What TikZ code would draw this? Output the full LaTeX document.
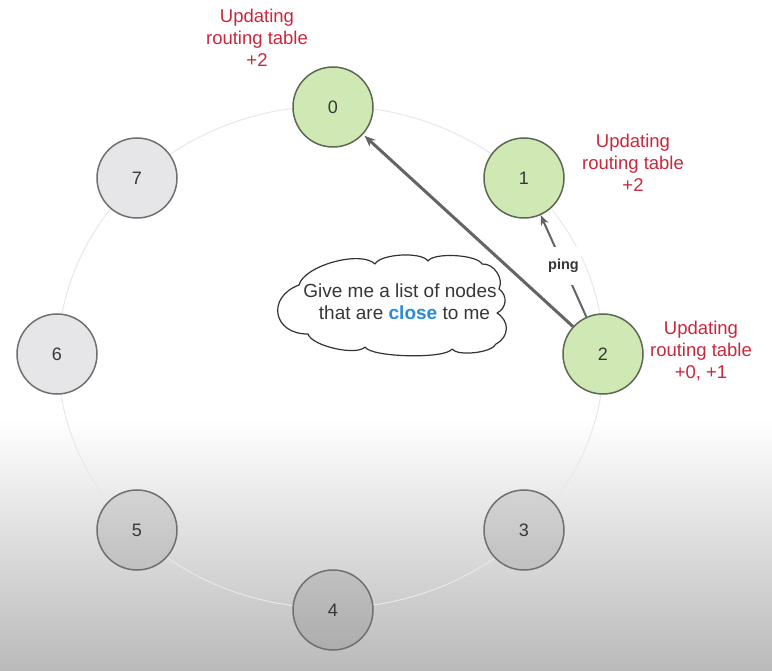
\documentclass[tikz,border=0pt]{standalone}
\usepackage{fontspec}
\setmainfont{Liberation Sans}
\usetikzlibrary{arrows.meta}
\definecolor{bgbot}{RGB}{186,186,186}
\definecolor{ringc}{RGB}{232,232,232}
\definecolor{greenfill}{RGB}{208,233,180}
\definecolor{greenedge}{RGB}{92,104,86}
\definecolor{grayedge}{RGB}{112,112,112}
\definecolor{redtxt}{RGB}{200,40,62}
\definecolor{bluetxt}{RGB}{44,138,214}
\definecolor{darktxt}{RGB}{55,55,55}
\definecolor{arrowc}{RGB}{100,100,100}
\definecolor{gtop}{RGB}{230,230,232}
\definecolor{gmidA}{RGB}{212,212,212}
\definecolor{gmidB}{RGB}{192,192,192}
\definecolor{glowB}{RGB}{173,173,173}
\tikzset{
  ringnode/.style={circle, minimum size=80pt, inner sep=0pt, line width=1.5pt,
    font=\fontsize{18}{20}\selectfont, text=darktxt},
  graynode/.style={ringnode, draw=grayedge, fill=gtop},
  midnode/.style={ringnode, draw=grayedge, top color=gmidA, bottom color=gmidB},
  lownode/.style={ringnode, draw=grayedge, top color=gmidB, bottom color=glowB},
  greennode/.style={ringnode, draw=greenedge, fill=greenfill},
  note/.style={align=center, text=redtxt, font=\fontsize{18.5}{22}\selectfont},
  msg/.style={line width=3pt, draw=arrowc, -{Stealth[length=11pt,width=9pt]}},
  pingmsg/.style={line width=2pt, draw=arrowc, -{Stealth[length=10pt,width=8pt]}},
  cloudline/.style={draw=black!80, line width=1.2pt, fill=white, line join=round},
}
\begin{document}
\begin{tikzpicture}[x=1pt,y=-1pt]
\useasboundingbox (0,0) rectangle (772,671);
\fill[white] (0,0) rectangle (772,420);
\shade[top color=white, bottom color=bgbot] (0,419) rectangle (772,671);
\draw[ringc, line width=1pt] (331,357) ellipse [x radius=273, y radius=251];

\node[greennode] (n0) at (333,107) {0};
\node[greennode] (n1) at (524,178) {1};
\node[greennode] (n2) at (603,354) {2};
\node[midnode] (n3) at (524,530) {3};
\node[lownode] (n4) at (333,610) {4};
\node[midnode] (n5) at (137,530) {5};
\node[graynode] (n6) at (57,354) {6};
\node[graynode] (n7) at (137,178) {7};

\node[note] (u0) at (257,37.5) {Updating\\routing table\\+2};
\node[note] (u1) at (633,162.5) {Updating\\routing table\\+2};
\node[note] (u2) at (701,351) {Updating\\routing table\\+0, +1};

\draw[msg, shorten >=2pt] (n2) -- (n0);
\draw[pingmsg] (n2) -- node[fill=white, inner xsep=2pt, inner ysep=12pt, text=darktxt,
  font=\bfseries\fontsize{14.5}{16}\selectfont] (ping) {ping} (n1);

\path[cloudline] (299,285)
  to[bend left=60, looseness=0.65] (375,264)
  to[bend left=60, looseness=0.55] (428,261)
  to[bend left=60, looseness=0.5] (482,264)
  to[bend left=60, looseness=1.0] (499,289)
  to[bend left=60, looseness=1.15] (497,313)
  to[bend left=60, looseness=1.25] (496,344)
  to[bend left=60, looseness=0.55] (452,349)
  to[bend left=60, looseness=0.35] (365,347)
  to[bend left=60, looseness=0.55] (308,334)
  to[bend left=80, looseness=1.8] cycle;
\node[align=center, text=darktxt, font=\fontsize{19}{22}\selectfont] (cltext) at (400,302)
  {Give me a list of nodes\\\hspace*{9pt}that are {\bfseries\color{bluetxt}close} to me};
\end{tikzpicture}
\end{document}
